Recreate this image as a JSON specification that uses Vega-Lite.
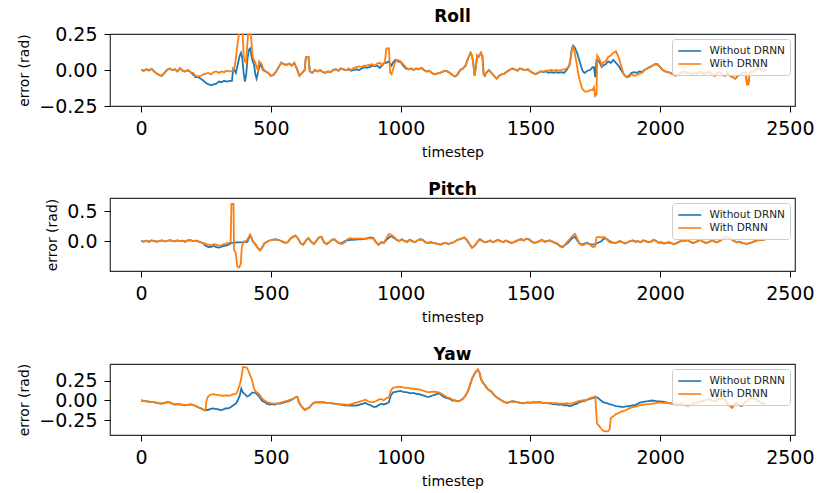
{
"$schema":"https://vega.github.io/schema/vega-lite/v6.json",
"padding":{"left":17,"top":7,"right":5,"bottom":0},
"spacing":20,
"config":{
"font":"DejaVu Sans",
"view":{"stroke":"#333","strokeWidth":1.2},
"axis":{"labelFont":"DejaVu Sans","titleFont":"DejaVu Sans","labelFontSize":19,"titleFontSize":14,"titleFontWeight":"normal","tickSize":6,"labelPadding":7,"titlePadding":7,"domain":false,"grid":false,"tickColor":"#000","labelColor":"#000","titleColor":"#000","labelFlush":false,"labelOverlap":false},
"title":{"font":"DejaVu Sans","fontSize":17,"fontWeight":"bold","offset":-1,"color":"#000"},
"legend":{"orient":"top-right","offset":5,"labelFont":"DejaVu Sans","labelFontSize":10.5,"labelColor":"#222","symbolType":"M-1,0H3","symbolSize":132,"symbolStrokeWidth":1.6,"labelOffset":18.5,"rowPadding":0,"padding":5,"fillColor":"rgba(255,255,255,0.8)","strokeColor":"#cccccc","cornerRadius":3}
},
"resolve":{"scale":{"color":"independent","y":"independent"},"legend":{"color":"independent"}},
"datasets":{
"roll":[
{"t":0,"without":0,"with":0},{"t":10,"without":-0.005,"with":-0.005},{"t":20,"without":0.005,"with":0.005},{"t":30,"without":-0.003,"with":-0.003},{"t":40,"without":0.008,"with":0.008},{"t":50,"without":-0.01,"with":-0.01},{"t":60,"without":-0.025,"with":-0.025},{"t":70,"without":-0.035,"with":-0.035},{"t":80,"without":-0.04,"with":-0.04},{"t":90,"without":-0.02,"with":-0.02},{"t":100,"without":0,"with":0},{"t":110,"without":0.01,"with":0.01},{"t":120,"without":0,"with":0},{"t":130,"without":0.005,"with":0.005},{"t":140,"without":-0.01,"with":-0.01},{"t":150,"without":0.012,"with":0.012},{"t":160,"without":-0.005,"with":-0.005},{"t":170,"without":-0.01,"with":-0.01},{"t":180,"without":0,"with":0},{"t":190,"without":-0.015,"with":-0.015},{"t":200,"without":-0.03,"with":-0.02},{"t":210,"without":-0.05,"with":-0.04},{"t":220,"without":-0.05,"with":-0.045},{"t":230,"without":-0.06,"with":-0.04},{"t":240,"without":-0.075,"with":-0.03},{"t":250,"without":-0.09,"with":-0.025},{"t":260,"without":-0.1,"with":-0.02},{"t":270,"without":-0.105,"with":-0.03},{"t":280,"without":-0.1,"with":-0.015},{"t":290,"without":-0.095,"with":-0.01},{"t":300,"without":-0.08,"with":-0.02},{"t":310,"without":-0.085,"with":-0.01},{"t":320,"without":-0.075,"with":-0.015},{"t":330,"without":-0.08,"with":-0.005},{"t":340,"without":-0.075,"with":-0.01},{"t":350,"without":-0.075,"with":-0.008},{"t":355,"without":0.01,"with":0},{"t":360,"without":0,"with":0.02},{"t":365,"without":-0.02,"with":0.08},{"t":370,"without":0.02,"with":0.16},{"t":375,"without":0.06,"with":0.22},{"t":380,"without":0.1,"with":0.3},{"t":385,"without":0.12,"with":0.33},{"t":390,"without":0.08,"with":0.3},{"t":395,"without":-0.02,"with":0.1},{"t":400,"without":-0.08,"with":0.06},{"t":405,"without":-0.03,"with":0.05},{"t":410,"without":0.08,"with":0.2},{"t":415,"without":0.14,"with":0.3},{"t":420,"without":0.15,"with":0.32},{"t":425,"without":0.1,"with":0.2},{"t":430,"without":0.06,"with":0.09},{"t":435,"without":0.04,"with":0.07},{"t":440,"without":-0.03,"with":0.05},{"t":445,"without":-0.06,"with":0.02},{"t":450,"without":-0.02,"with":0},{"t":455,"without":0.02,"with":0.06},{"t":460,"without":0.04,"with":0.05},{"t":465,"without":0.02,"with":0.04},{"t":470,"without":0,"with":0.01},{"t":480,"without":-0.01,"with":-0.01},{"t":490,"without":-0.02,"with":-0.02},{"t":500,"without":-0.04,"with":-0.04},{"t":510,"without":-0.035,"with":-0.035},{"t":520,"without":-0.01,"with":-0.01},{"t":530,"without":0.02,"with":0.02},{"t":540,"without":0.05,"with":0.05},{"t":550,"without":0.04,"with":0.04},{"t":560,"without":0.035,"with":0.035},{"t":570,"without":0.045,"with":0.045},{"t":580,"without":0.03,"with":0.03},{"t":590,"without":0.05,"with":0.05},{"t":600,"without":0.01,"with":0.01},{"t":610,"without":-0.04,"with":-0.04},{"t":620,"without":-0.02,"with":-0.02},{"t":630,"without":0,"with":0},{"t":635,"without":0.09,"with":0.09},{"t":645,"without":0.09,"with":0.09},{"t":650,"without":-0.01,"with":-0.01},{"t":660,"without":-0.02,"with":-0.02},{"t":670,"without":0,"with":0},{"t":680,"without":-0.01,"with":-0.01},{"t":690,"without":0,"with":0},{"t":700,"without":-0.015,"with":-0.015},{"t":710,"without":-0.02,"with":-0.02},{"t":720,"without":-0.01,"with":-0.01},{"t":730,"without":-0.015,"with":-0.015},{"t":740,"without":0,"with":0},{"t":750,"without":0.005,"with":0.005},{"t":760,"without":-0.005,"with":-0.005},{"t":770,"without":0.01,"with":0.01},{"t":780,"without":0.005,"with":0.005},{"t":790,"without":0,"with":0},{"t":800,"without":0.005,"with":0.01},{"t":810,"without":-0.005,"with":0},{"t":820,"without":0,"with":0.015},{"t":830,"without":0.005,"with":0.02},{"t":840,"without":0,"with":0.025},{"t":850,"without":0.01,"with":0.02},{"t":860,"without":0.02,"with":0.03},{"t":870,"without":0.015,"with":0.03},{"t":880,"without":0.02,"with":0.035},{"t":890,"without":0.03,"with":0.04},{"t":900,"without":0.025,"with":0.03},{"t":910,"without":0.03,"with":0.045},{"t":920,"without":0.015,"with":0.05},{"t":930,"without":0.04,"with":0.03},{"t":940,"without":0.05,"with":0.06},{"t":945,"without":0.05,"with":0.15},{"t":955,"without":0.06,"with":0.15},{"t":960,"without":0.04,"with":-0.02},{"t":965,"without":0.03,"with":-0.03},{"t":970,"without":0.05,"with":0},{"t":980,"without":0.07,"with":0.06},{"t":990,"without":0.06,"with":0.07},{"t":1000,"without":0.055,"with":0.06},{"t":1010,"without":0.03,"with":0.04},{"t":1020,"without":0.01,"with":0.02},{"t":1030,"without":0.005,"with":0.005},{"t":1040,"without":0.01,"with":0.01},{"t":1050,"without":0,"with":0},{"t":1060,"without":0.01,"with":0.01},{"t":1070,"without":0.005,"with":0.005},{"t":1080,"without":0.015,"with":0.015},{"t":1090,"without":0,"with":0},{"t":1100,"without":-0.01,"with":-0.01},{"t":1110,"without":-0.005,"with":-0.005},{"t":1120,"without":-0.02,"with":-0.02},{"t":1130,"without":-0.03,"with":-0.03},{"t":1140,"without":-0.025,"with":-0.025},{"t":1150,"without":-0.02,"with":-0.02},{"t":1160,"without":-0.015,"with":-0.015},{"t":1170,"without":-0.005,"with":-0.005},{"t":1180,"without":-0.01,"with":-0.01},{"t":1190,"without":-0.02,"with":-0.02},{"t":1200,"without":-0.035,"with":-0.035},{"t":1210,"without":-0.045,"with":-0.045},{"t":1220,"without":-0.03,"with":-0.03},{"t":1230,"without":0,"with":0},{"t":1240,"without":0.01,"with":0.01},{"t":1250,"without":0.03,"with":0.03},{"t":1260,"without":0.08,"with":0.08},{"t":1270,"without":0.12,"with":0.12},{"t":1275,"without":0.1,"with":0.1},{"t":1280,"without":0.05,"with":0.05},{"t":1285,"without":-0.04,"with":-0.04},{"t":1290,"without":0.02,"with":0.02},{"t":1295,"without":0.1,"with":0.1},{"t":1300,"without":0.09,"with":0.09},{"t":1310,"without":0.12,"with":0.12},{"t":1315,"without":0.1,"with":0.1},{"t":1320,"without":-0.03,"with":-0.03},{"t":1325,"without":-0.04,"with":-0.04},{"t":1330,"without":-0.02,"with":-0.02},{"t":1340,"without":0,"with":0},{"t":1350,"without":-0.02,"with":-0.02},{"t":1360,"without":-0.04,"with":-0.04},{"t":1370,"without":-0.06,"with":-0.06},{"t":1380,"without":-0.04,"with":-0.04},{"t":1390,"without":-0.03,"with":-0.03},{"t":1400,"without":-0.025,"with":-0.025},{"t":1410,"without":-0.01,"with":-0.01},{"t":1420,"without":0,"with":0},{"t":1430,"without":0.01,"with":0.01},{"t":1440,"without":0.005,"with":0.005},{"t":1450,"without":-0.005,"with":-0.005},{"t":1460,"without":0.01,"with":0.01},{"t":1470,"without":0.005,"with":0.005},{"t":1480,"without":0,"with":0},{"t":1490,"without":0.005,"with":0.005},{"t":1500,"without":-0.01,"with":-0.01},{"t":1510,"without":-0.02,"with":-0.02},{"t":1520,"without":-0.03,"with":-0.03},{"t":1530,"without":-0.02,"with":-0.02},{"t":1540,"without":-0.01,"with":-0.01},{"t":1550,"without":-0.015,"with":-0.01},{"t":1560,"without":-0.01,"with":-0.005},{"t":1570,"without":-0.02,"with":-0.005},{"t":1580,"without":-0.015,"with":0},{"t":1590,"without":-0.02,"with":-0.005},{"t":1600,"without":-0.015,"with":0},{"t":1610,"without":-0.02,"with":-0.005},{"t":1620,"without":-0.015,"with":0},{"t":1630,"without":-0.02,"with":0.005},{"t":1640,"without":0,"with":0.01},{"t":1650,"without":0.03,"with":0.03},{"t":1655,"without":0.08,"with":0.07},{"t":1660,"without":0.15,"with":0.14},{"t":1665,"without":0.17,"with":0.16},{"t":1670,"without":0.16,"with":0.13},{"t":1675,"without":0.14,"with":0.08},{"t":1680,"without":0.12,"with":0.03},{"t":1685,"without":0.09,"with":-0.03},{"t":1690,"without":0.06,"with":-0.07},{"t":1695,"without":0.03,"with":-0.1},{"t":1700,"without":0,"with":-0.13},{"t":1705,"without":-0.015,"with":-0.14},{"t":1710,"without":-0.02,"with":-0.15},{"t":1720,"without":-0.005,"with":-0.15},{"t":1730,"without":0,"with":-0.14},{"t":1740,"without":0.02,"with":-0.14},{"t":1745,"without":0.02,"with":-0.12},{"t":1750,"without":-0.05,"with":-0.18},{"t":1755,"without":0.07,"with":-0.17},{"t":1758,"without":0.07,"with":0.1},{"t":1765,"without":0.06,"with":0.08},{"t":1770,"without":0.04,"with":0.06},{"t":1775,"without":0.02,"with":0.03},{"t":1780,"without":0.03,"with":0.05},{"t":1790,"without":0.04,"with":0.06},{"t":1800,"without":0.06,"with":0.09},{"t":1810,"without":0.05,"with":0.1},{"t":1820,"without":0.07,"with":0.12},{"t":1830,"without":0.05,"with":0.13},{"t":1840,"without":0.03,"with":0.09},{"t":1850,"without":0,"with":0.03},{"t":1860,"without":-0.03,"with":-0.03},{"t":1870,"without":-0.05,"with":-0.05},{"t":1880,"without":-0.04,"with":-0.05},{"t":1890,"without":-0.02,"with":-0.03},{"t":1900,"without":-0.015,"with":-0.04},{"t":1910,"without":-0.02,"with":-0.035},{"t":1920,"without":-0.01,"with":-0.025},{"t":1930,"without":-0.015,"with":-0.02},{"t":1940,"without":0,"with":0},{"t":1950,"without":0.01,"with":0.01},{"t":1960,"without":0.02,"with":0.02},{"t":1970,"without":0.03,"with":0.03},{"t":1980,"without":0.04,"with":0.04},{"t":1990,"without":0.04,"with":0.04},{"t":2000,"without":0.02,"with":0.02},{"t":2010,"without":0,"with":0},{"t":2020,"without":-0.01,"with":-0.01},{"t":2030,"without":-0.015,"with":-0.015},{"t":2040,"without":-0.02,"with":-0.02},{"t":2050,"without":-0.03,"with":-0.03},{"t":2060,"without":-0.04,"with":-0.04},{"t":2070,"without":-0.03,"with":-0.03},{"t":2080,"without":-0.02,"with":-0.02},{"t":2090,"without":-0.01,"with":-0.01},{"t":2100,"without":-0.02,"with":-0.02},{"t":2110,"without":-0.015,"with":-0.015},{"t":2120,"without":-0.03,"with":-0.03},{"t":2130,"without":-0.02,"with":-0.02},{"t":2140,"without":-0.025,"with":-0.025},{"t":2150,"without":-0.01,"with":-0.01},{"t":2160,"without":-0.02,"with":-0.02},{"t":2170,"without":-0.03,"with":-0.03},{"t":2180,"without":-0.02,"with":-0.02},{"t":2190,"without":-0.01,"with":-0.01},{"t":2200,"without":-0.03,"with":-0.03},{"t":2210,"without":-0.04,"with":-0.04},{"t":2220,"without":-0.02,"with":-0.02},{"t":2230,"without":-0.015,"with":-0.015},{"t":2240,"without":-0.03,"with":-0.03},{"t":2250,"without":-0.04,"with":-0.04},{"t":2260,"without":-0.02,"with":-0.02},{"t":2270,"without":-0.04,"with":-0.04},{"t":2280,"without":-0.05,"with":-0.05},{"t":2290,"without":-0.06,"with":-0.06},{"t":2300,"without":-0.04,"with":-0.04},{"t":2310,"without":-0.03,"with":-0.03},{"t":2320,"without":-0.02,"with":-0.02},{"t":2330,"without":-0.02,"with":-0.02},{"t":2335,"without":-0.1,"with":-0.1},{"t":2340,"without":-0.1,"with":-0.1},{"t":2345,"without":-0.02,"with":-0.02},{"t":2360,"without":-0.01,"with":-0.01},{"t":2370,"without":0,"with":0},{"t":2380,"without":0.01,"with":0.01},{"t":2390,"without":0,"with":0},{"t":2400,"without":-0.005,"with":-0.005},{"t":2410,"without":0,"with":0}
],
"pitch":[
{"t":0,"without":0,"with":0},{"t":10,"without":-0.01,"with":-0.01},{"t":20,"without":0.005,"with":0.005},{"t":30,"without":-0.01,"with":-0.01},{"t":40,"without":0.01,"with":0.01},{"t":50,"without":0,"with":0},{"t":60,"without":-0.01,"with":-0.01},{"t":70,"without":0,"with":0},{"t":80,"without":0.01,"with":0.01},{"t":90,"without":-0.005,"with":-0.005},{"t":100,"without":0,"with":0},{"t":110,"without":0.015,"with":0.015},{"t":120,"without":0.005,"with":0.005},{"t":130,"without":-0.005,"with":-0.005},{"t":140,"without":0.01,"with":0.01},{"t":150,"without":0,"with":0},{"t":160,"without":0.005,"with":0.005},{"t":170,"without":-0.01,"with":-0.01},{"t":180,"without":0.01,"with":0.01},{"t":190,"without":0.015,"with":0.015},{"t":200,"without":0,"with":0},{"t":210,"without":0.005,"with":0.005},{"t":220,"without":-0.005,"with":-0.005},{"t":230,"without":-0.02,"with":-0.02},{"t":240,"without":-0.04,"with":-0.03},{"t":250,"without":-0.08,"with":-0.05},{"t":260,"without":-0.1,"with":-0.06},{"t":270,"without":-0.095,"with":-0.07},{"t":280,"without":-0.08,"with":-0.05},{"t":290,"without":-0.1,"with":-0.06},{"t":300,"without":-0.11,"with":-0.08},{"t":310,"without":-0.095,"with":-0.07},{"t":320,"without":-0.08,"with":-0.05},{"t":330,"without":-0.07,"with":-0.04},{"t":340,"without":-0.05,"with":-0.03},{"t":345,"without":-0.04,"with":-0.02},{"t":348,"without":-0.03,"with":0.62},{"t":356,"without":-0.03,"with":0.62},{"t":358,"without":-0.03,"with":-0.15},{"t":365,"without":-0.02,"with":-0.2},{"t":370,"without":-0.02,"with":-0.42},{"t":378,"without":-0.02,"with":-0.44},{"t":384,"without":-0.02,"with":-0.38},{"t":388,"without":-0.02,"with":-0.1},{"t":395,"without":-0.02,"with":-0.01},{"t":400,"without":-0.01,"with":0},{"t":405,"without":-0.02,"with":0},{"t":410,"without":-0.01,"with":0.03},{"t":415,"without":0.05,"with":0.07},{"t":420,"without":0.1,"with":0.11},{"t":425,"without":0.06,"with":0.06},{"t":430,"without":0,"with":0},{"t":440,"without":-0.05,"with":-0.05},{"t":450,"without":-0.12,"with":-0.12},{"t":458,"without":-0.15,"with":-0.16},{"t":465,"without":-0.12,"with":-0.12},{"t":475,"without":-0.04,"with":-0.04},{"t":485,"without":-0.01,"with":-0.01},{"t":495,"without":0.01,"with":0.01},{"t":505,"without":0.02,"with":0.02},{"t":515,"without":0.03,"with":0.03},{"t":525,"without":0.025,"with":0.025},{"t":535,"without":0.01,"with":0.01},{"t":545,"without":-0.01,"with":-0.01},{"t":555,"without":-0.03,"with":-0.03},{"t":565,"without":-0.02,"with":-0.02},{"t":575,"without":0.04,"with":0.04},{"t":585,"without":0.07,"with":0.07},{"t":595,"without":0.09,"with":0.09},{"t":605,"without":0.04,"with":0.04},{"t":615,"without":-0.04,"with":-0.04},{"t":625,"without":-0.06,"with":-0.06},{"t":635,"without":0.01,"with":0.01},{"t":645,"without":0.05,"with":0.05},{"t":655,"without":-0.01,"with":-0.01},{"t":665,"without":-0.05,"with":-0.05},{"t":675,"without":0,"with":0},{"t":685,"without":0.06,"with":0.06},{"t":695,"without":0.07,"with":0.07},{"t":705,"without":-0.02,"with":-0.02},{"t":715,"without":-0.05,"with":-0.05},{"t":725,"without":-0.02,"with":-0.02},{"t":735,"without":0.02,"with":0.02},{"t":745,"without":0.03,"with":0.03},{"t":755,"without":-0.01,"with":-0.01},{"t":765,"without":-0.04,"with":-0.04},{"t":775,"without":-0.03,"with":-0.05},{"t":785,"without":0,"with":-0.02},{"t":795,"without":0.01,"with":0.03},{"t":805,"without":0.02,"with":0.05},{"t":815,"without":0.02,"with":0.04},{"t":825,"without":0.025,"with":0.04},{"t":835,"without":0.03,"with":0.045},{"t":845,"without":0.03,"with":0.04},{"t":855,"without":0.035,"with":0.04},{"t":865,"without":0.04,"with":0.04},{"t":875,"without":0.05,"with":0.045},{"t":885,"without":0.06,"with":0.045},{"t":895,"without":0.05,"with":0.04},{"t":905,"without":-0.02,"with":-0.02},{"t":915,"without":-0.06,"with":-0.06},{"t":925,"without":-0.02,"with":-0.02},{"t":935,"without":-0.03,"with":-0.03},{"t":945,"without":0.02,"with":0.05},{"t":955,"without":0.06,"with":0.12},{"t":965,"without":0.08,"with":0.1},{"t":975,"without":0.05,"with":0.07},{"t":985,"without":0.02,"with":0.02},{"t":995,"without":0,"with":0},{"t":1005,"without":0.03,"with":0.03},{"t":1015,"without":0,"with":0},{"t":1025,"without":-0.01,"with":-0.01},{"t":1035,"without":0.02,"with":0.02},{"t":1045,"without":0,"with":0},{"t":1055,"without":-0.02,"with":-0.02},{"t":1065,"without":0.01,"with":0.01},{"t":1075,"without":0.03,"with":0.03},{"t":1085,"without":0.02,"with":0.02},{"t":1095,"without":-0.02,"with":-0.02},{"t":1105,"without":-0.03,"with":-0.03},{"t":1115,"without":-0.02,"with":-0.02},{"t":1125,"without":-0.03,"with":-0.03},{"t":1135,"without":-0.04,"with":-0.04},{"t":1145,"without":-0.05,"with":-0.05},{"t":1155,"without":-0.06,"with":-0.06},{"t":1165,"without":-0.04,"with":-0.04},{"t":1175,"without":-0.03,"with":-0.03},{"t":1185,"without":-0.05,"with":-0.05},{"t":1195,"without":-0.03,"with":-0.03},{"t":1205,"without":-0.02,"with":-0.02},{"t":1215,"without":0.01,"with":0.01},{"t":1225,"without":0.03,"with":0.03},{"t":1235,"without":0.04,"with":0.04},{"t":1245,"without":0.06,"with":0.06},{"t":1255,"without":0.02,"with":0.02},{"t":1265,"without":-0.05,"with":-0.05},{"t":1275,"without":-0.11,"with":-0.11},{"t":1285,"without":-0.08,"with":-0.08},{"t":1295,"without":-0.02,"with":-0.02},{"t":1305,"without":0.03,"with":0.03},{"t":1315,"without":0,"with":0},{"t":1325,"without":-0.02,"with":-0.02},{"t":1335,"without":-0.01,"with":-0.01},{"t":1345,"without":0.01,"with":0.01},{"t":1355,"without":-0.02,"with":-0.02},{"t":1365,"without":0,"with":0},{"t":1375,"without":0.02,"with":0.02},{"t":1385,"without":0,"with":0},{"t":1395,"without":-0.02,"with":-0.02},{"t":1405,"without":0.01,"with":0.01},{"t":1415,"without":-0.01,"with":-0.01},{"t":1425,"without":-0.03,"with":-0.03},{"t":1435,"without":-0.02,"with":-0.02},{"t":1445,"without":0,"with":0},{"t":1455,"without":0.02,"with":0.02},{"t":1465,"without":0.03,"with":0.03},{"t":1475,"without":0.01,"with":0.01},{"t":1485,"without":0.04,"with":0.04},{"t":1495,"without":0.03,"with":0.03},{"t":1505,"without":-0.01,"with":-0.01},{"t":1515,"without":-0.03,"with":-0.03},{"t":1525,"without":-0.02,"with":-0.02},{"t":1535,"without":0,"with":0},{"t":1545,"without":0.02,"with":0.02},{"t":1555,"without":-0.01,"with":-0.01},{"t":1565,"without":0,"with":0},{"t":1575,"without":0.01,"with":0.01},{"t":1585,"without":-0.01,"with":-0.01},{"t":1595,"without":-0.03,"with":-0.03},{"t":1605,"without":-0.05,"with":-0.04},{"t":1615,"without":-0.09,"with":-0.08},{"t":1625,"without":-0.1,"with":-0.09},{"t":1635,"without":-0.06,"with":-0.05},{"t":1645,"without":-0.03,"with":0},{"t":1655,"without":0.02,"with":0.05},{"t":1665,"without":0.06,"with":0.1},{"t":1672,"without":0.07,"with":0.12},{"t":1680,"without":0.02,"with":0.05},{"t":1690,"without":-0.04,"with":-0.05},{"t":1700,"without":-0.06,"with":-0.07},{"t":1710,"without":-0.04,"with":-0.05},{"t":1720,"without":-0.03,"with":-0.04},{"t":1730,"without":-0.05,"with":-0.06},{"t":1740,"without":-0.06,"with":-0.1},{"t":1750,"without":-0.05,"with":-0.09},{"t":1755,"without":-0.04,"with":0.06},{"t":1765,"without":-0.02,"with":0.07},{"t":1775,"without":0,"with":0.06},{"t":1785,"without":0.05,"with":0.07},{"t":1795,"without":0.03,"with":0.03},{"t":1805,"without":0,"with":-0.02},{"t":1815,"without":-0.02,"with":-0.03},{"t":1825,"without":-0.03,"with":-0.03},{"t":1835,"without":-0.02,"with":-0.02},{"t":1845,"without":0,"with":0},{"t":1855,"without":-0.02,"with":-0.02},{"t":1865,"without":-0.04,"with":-0.04},{"t":1875,"without":-0.02,"with":-0.02},{"t":1885,"without":0,"with":0},{"t":1895,"without":0.01,"with":0.01},{"t":1905,"without":-0.01,"with":-0.01},{"t":1915,"without":0,"with":0},{"t":1925,"without":-0.02,"with":-0.02},{"t":1935,"without":0.01,"with":0.01},{"t":1945,"without":0,"with":0},{"t":1955,"without":-0.02,"with":-0.02},{"t":1965,"without":-0.01,"with":-0.01},{"t":1975,"without":0.02,"with":0.02},{"t":1985,"without":0,"with":0},{"t":1995,"without":-0.03,"with":-0.03},{"t":2005,"without":-0.02,"with":-0.02},{"t":2015,"without":-0.04,"with":-0.04},{"t":2025,"without":-0.03,"with":-0.03},{"t":2035,"without":-0.02,"with":-0.02},{"t":2045,"without":-0.04,"with":-0.04},{"t":2055,"without":-0.05,"with":-0.05},{"t":2065,"without":-0.03,"with":-0.03},{"t":2075,"without":-0.01,"with":-0.01},{"t":2085,"without":0.01,"with":0.01},{"t":2095,"without":0,"with":0},{"t":2105,"without":0.02,"with":0.02},{"t":2115,"without":-0.01,"with":-0.01},{"t":2125,"without":-0.03,"with":-0.03},{"t":2135,"without":-0.02,"with":-0.02},{"t":2145,"without":0,"with":0},{"t":2155,"without":0.02,"with":0.02},{"t":2165,"without":-0.01,"with":-0.01},{"t":2175,"without":-0.03,"with":-0.03},{"t":2185,"without":-0.02,"with":-0.02},{"t":2195,"without":0,"with":0},{"t":2205,"without":0.01,"with":0.01},{"t":2215,"without":-0.02,"with":-0.02},{"t":2225,"without":-0.01,"with":-0.01},{"t":2235,"without":0.02,"with":0.02},{"t":2245,"without":0.05,"with":0.05},{"t":2255,"without":0.07,"with":0.07},{"t":2265,"without":0.06,"with":0.06},{"t":2275,"without":0.03,"with":0.03},{"t":2285,"without":0,"with":0},{"t":2295,"without":-0.02,"with":-0.02},{"t":2305,"without":-0.01,"with":-0.01},{"t":2315,"without":-0.03,"with":-0.03},{"t":2325,"without":-0.04,"with":-0.04},{"t":2335,"without":-0.05,"with":-0.05},{"t":2345,"without":-0.03,"with":-0.03},{"t":2355,"without":-0.02,"with":-0.02},{"t":2365,"without":0,"with":0},{"t":2375,"without":0.01,"with":0.01},{"t":2385,"without":0.02,"with":0.02},{"t":2395,"without":0.02,"with":0.02},{"t":2405,"without":0.03,"with":0.03}
],
"yaw":[
{"t":0,"without":0,"with":0},{"t":10,"without":-0.005,"with":-0.005},{"t":20,"without":-0.01,"with":-0.01},{"t":30,"without":-0.015,"with":-0.015},{"t":40,"without":-0.02,"with":-0.02},{"t":50,"without":-0.02,"with":-0.02},{"t":60,"without":-0.03,"with":-0.03},{"t":70,"without":-0.035,"with":-0.035},{"t":80,"without":-0.04,"with":-0.04},{"t":90,"without":-0.03,"with":-0.03},{"t":100,"without":-0.02,"with":-0.02},{"t":110,"without":-0.025,"with":-0.025},{"t":120,"without":-0.04,"with":-0.04},{"t":130,"without":-0.05,"with":-0.05},{"t":140,"without":-0.045,"with":-0.045},{"t":150,"without":-0.05,"with":-0.05},{"t":160,"without":-0.055,"with":-0.055},{"t":170,"without":-0.06,"with":-0.06},{"t":180,"without":-0.055,"with":-0.055},{"t":190,"without":-0.05,"with":-0.05},{"t":200,"without":-0.055,"with":-0.055},{"t":210,"without":-0.07,"with":-0.07},{"t":220,"without":-0.085,"with":-0.085},{"t":230,"without":-0.1,"with":-0.1},{"t":240,"without":-0.115,"with":-0.115},{"t":248,"without":-0.125,"with":-0.125},{"t":252,"without":-0.12,"with":0},{"t":258,"without":-0.12,"with":0.05},{"t":265,"without":-0.11,"with":0.07},{"t":275,"without":-0.1,"with":0.08},{"t":285,"without":-0.105,"with":0.075},{"t":295,"without":-0.11,"with":0.07},{"t":305,"without":-0.12,"with":0.065},{"t":315,"without":-0.115,"with":0.06},{"t":325,"without":-0.1,"with":0.065},{"t":335,"without":-0.1,"with":0.06},{"t":345,"without":-0.085,"with":0.065},{"t":355,"without":-0.06,"with":0.08},{"t":365,"without":-0.04,"with":0.08},{"t":372,"without":0,"with":0.12},{"t":380,"without":0.06,"with":0.2},{"t":386,"without":0.15,"with":0.28},{"t":392,"without":0.1,"with":0.42},{"t":400,"without":0.08,"with":0.42},{"t":408,"without":0.05,"with":0.41},{"t":415,"without":0.06,"with":0.36},{"t":422,"without":0.08,"with":0.3},{"t":428,"without":0.1,"with":0.25},{"t":434,"without":0.1,"with":0.16},{"t":440,"without":0.1,"with":0.12},{"t":446,"without":0.08,"with":0.1},{"t":455,"without":0.05,"with":0.08},{"t":465,"without":0,"with":0.03},{"t":475,"without":-0.02,"with":0},{"t":485,"without":-0.04,"with":-0.02},{"t":495,"without":-0.05,"with":-0.03},{"t":505,"without":-0.045,"with":-0.04},{"t":515,"without":-0.05,"with":-0.04},{"t":525,"without":-0.04,"with":-0.035},{"t":535,"without":-0.04,"with":-0.03},{"t":545,"without":-0.03,"with":-0.02},{"t":555,"without":-0.02,"with":-0.01},{"t":565,"without":-0.01,"with":0},{"t":575,"without":0,"with":0.01},{"t":585,"without":0.02,"with":0.02},{"t":595,"without":0.04,"with":0.04},{"t":602,"without":0.045,"with":0.045},{"t":608,"without":-0.02,"with":-0.02},{"t":615,"without":-0.06,"with":-0.06},{"t":625,"without":-0.1,"with":-0.1},{"t":632,"without":-0.12,"with":-0.12},{"t":640,"without":-0.1,"with":-0.1},{"t":648,"without":-0.09,"with":-0.09},{"t":655,"without":-0.06,"with":-0.06},{"t":665,"without":-0.03,"with":-0.03},{"t":675,"without":-0.02,"with":-0.02},{"t":685,"without":-0.025,"with":-0.025},{"t":695,"without":-0.02,"with":-0.02},{"t":705,"without":-0.025,"with":-0.025},{"t":715,"without":-0.03,"with":-0.03},{"t":725,"without":-0.03,"with":-0.03},{"t":735,"without":-0.035,"with":-0.035},{"t":745,"without":-0.04,"with":-0.04},{"t":755,"without":-0.045,"with":-0.045},{"t":765,"without":-0.05,"with":-0.05},{"t":775,"without":-0.055,"with":-0.05},{"t":785,"without":-0.06,"with":-0.05},{"t":795,"without":-0.06,"with":-0.055},{"t":805,"without":-0.065,"with":-0.05},{"t":815,"without":-0.06,"with":-0.04},{"t":825,"without":-0.065,"with":-0.03},{"t":835,"without":-0.06,"with":-0.02},{"t":845,"without":-0.05,"with":-0.01},{"t":855,"without":-0.04,"with":0},{"t":865,"without":-0.03,"with":0.01},{"t":875,"without":-0.05,"with":-0.01},{"t":885,"without":-0.06,"with":-0.02},{"t":895,"without":-0.08,"with":-0.02},{"t":905,"without":-0.08,"with":-0.01},{"t":915,"without":-0.06,"with":0.01},{"t":925,"without":-0.04,"with":0.02},{"t":935,"without":-0.05,"with":0},{"t":945,"without":-0.04,"with":0.03},{"t":955,"without":-0.02,"with":0.04},{"t":962,"without":0.06,"with":0.12},{"t":970,"without":0.1,"with":0.16},{"t":980,"without":0.11,"with":0.165},{"t":990,"without":0.115,"with":0.175},{"t":1000,"without":0.12,"with":0.17},{"t":1010,"without":0.11,"with":0.165},{"t":1020,"without":0.105,"with":0.16},{"t":1030,"without":0.1,"with":0.16},{"t":1040,"without":0.09,"with":0.15},{"t":1050,"without":0.095,"with":0.15},{"t":1060,"without":0.085,"with":0.145},{"t":1070,"without":0.08,"with":0.14},{"t":1080,"without":0.07,"with":0.13},{"t":1090,"without":0.06,"with":0.12},{"t":1100,"without":0.05,"with":0.11},{"t":1110,"without":0.045,"with":0.105},{"t":1120,"without":0.06,"with":0.11},{"t":1130,"without":0.07,"with":0.11},{"t":1140,"without":0.08,"with":0.105},{"t":1150,"without":0.09,"with":0.1},{"t":1160,"without":0.06,"with":0.08},{"t":1170,"without":0.04,"with":0.06},{"t":1180,"without":0.03,"with":0.04},{"t":1190,"without":0.02,"with":0.03},{"t":1200,"without":0,"with":0.01},{"t":1210,"without":0,"with":0},{"t":1220,"without":-0.01,"with":-0.01},{"t":1230,"without":0,"with":0},{"t":1240,"without":0.02,"with":0.02},{"t":1250,"without":0.06,"with":0.06},{"t":1260,"without":0.12,"with":0.12},{"t":1268,"without":0.2,"with":0.2},{"t":1276,"without":0.28,"with":0.28},{"t":1284,"without":0.33,"with":0.33},{"t":1292,"without":0.37,"with":0.37},{"t":1298,"without":0.39,"with":0.39},{"t":1304,"without":0.35,"with":0.35},{"t":1310,"without":0.27,"with":0.27},{"t":1318,"without":0.22,"with":0.22},{"t":1326,"without":0.19,"with":0.19},{"t":1334,"without":0.15,"with":0.15},{"t":1342,"without":0.13,"with":0.13},{"t":1350,"without":0.11,"with":0.11},{"t":1360,"without":0.07,"with":0.07},{"t":1370,"without":0.04,"with":0.04},{"t":1380,"without":0.02,"with":0.02},{"t":1390,"without":0,"with":0},{"t":1400,"without":-0.02,"with":-0.02},{"t":1410,"without":-0.03,"with":-0.03},{"t":1420,"without":-0.02,"with":-0.02},{"t":1430,"without":-0.01,"with":-0.01},{"t":1440,"without":-0.015,"with":-0.015},{"t":1450,"without":-0.02,"with":-0.02},{"t":1460,"without":-0.03,"with":-0.03},{"t":1470,"without":-0.035,"with":-0.035},{"t":1480,"without":-0.03,"with":-0.03},{"t":1490,"without":-0.025,"with":-0.025},{"t":1500,"without":-0.03,"with":-0.03},{"t":1510,"without":-0.02,"with":-0.02},{"t":1520,"without":-0.025,"with":-0.025},{"t":1530,"without":-0.02,"with":-0.02},{"t":1540,"without":-0.025,"with":-0.025},{"t":1550,"without":-0.03,"with":-0.03},{"t":1560,"without":-0.03,"with":-0.03},{"t":1570,"without":-0.035,"with":-0.03},{"t":1580,"without":-0.04,"with":-0.03},{"t":1590,"without":-0.05,"with":-0.035},{"t":1600,"without":-0.05,"with":-0.035},{"t":1610,"without":-0.055,"with":-0.04},{"t":1620,"without":-0.05,"with":-0.04},{"t":1630,"without":-0.06,"with":-0.04},{"t":1640,"without":-0.06,"with":-0.035},{"t":1650,"without":-0.07,"with":-0.04},{"t":1660,"without":-0.065,"with":-0.04},{"t":1670,"without":-0.05,"with":-0.025},{"t":1680,"without":-0.04,"with":-0.015},{"t":1690,"without":-0.02,"with":-0.005},{"t":1700,"without":-0.01,"with":0},{"t":1710,"without":-0.005,"with":0.005},{"t":1720,"without":0.01,"with":0.01},{"t":1730,"without":0.02,"with":0.03},{"t":1740,"without":0.03,"with":0.04},{"t":1750,"without":0.04,"with":0.05},{"t":1757,"without":0.04,"with":-0.29},{"t":1765,"without":0.02,"with":-0.32},{"t":1772,"without":0,"with":-0.35},{"t":1780,"without":-0.02,"with":-0.38},{"t":1790,"without":-0.03,"with":-0.39},{"t":1800,"without":-0.04,"with":-0.39},{"t":1806,"without":-0.05,"with":-0.36},{"t":1810,"without":-0.05,"with":-0.22},{"t":1820,"without":-0.06,"with":-0.2},{"t":1830,"without":-0.07,"with":-0.17},{"t":1840,"without":-0.075,"with":-0.16},{"t":1850,"without":-0.08,"with":-0.14},{"t":1860,"without":-0.08,"with":-0.13},{"t":1870,"without":-0.075,"with":-0.12},{"t":1880,"without":-0.07,"with":-0.1},{"t":1890,"without":-0.065,"with":-0.09},{"t":1900,"without":-0.06,"with":-0.08},{"t":1910,"without":-0.05,"with":-0.075},{"t":1920,"without":-0.03,"with":-0.06},{"t":1930,"without":-0.02,"with":-0.055},{"t":1940,"without":-0.015,"with":-0.05},{"t":1950,"without":-0.01,"with":-0.05},{"t":1960,"without":-0.005,"with":-0.045},{"t":1970,"without":0,"with":-0.04},{"t":1980,"without":-0.005,"with":-0.035},{"t":1990,"without":-0.01,"with":-0.03},{"t":2000,"without":-0.01,"with":-0.025},{"t":2010,"without":-0.015,"with":-0.03},{"t":2020,"without":-0.02,"with":-0.03},{"t":2030,"without":-0.03,"with":-0.03},{"t":2040,"without":-0.035,"with":-0.035},{"t":2050,"without":-0.04,"with":-0.04},{"t":2060,"without":-0.04,"with":-0.04},{"t":2070,"without":-0.045,"with":-0.045},{"t":2080,"without":-0.04,"with":-0.04},{"t":2090,"without":-0.05,"with":-0.05},{"t":2100,"without":-0.06,"with":-0.06},{"t":2110,"without":-0.06,"with":-0.06},{"t":2120,"without":-0.055,"with":-0.055},{"t":2130,"without":-0.04,"with":-0.04},{"t":2140,"without":-0.03,"with":-0.03},{"t":2150,"without":-0.02,"with":-0.02},{"t":2160,"without":-0.01,"with":-0.01},{"t":2170,"without":0,"with":0},{"t":2180,"without":0.01,"with":0.01},{"t":2190,"without":0.02,"with":0.02},{"t":2200,"without":0,"with":0},{"t":2210,"without":-0.01,"with":-0.01},{"t":2220,"without":0.01,"with":0.01},{"t":2230,"without":0.02,"with":0.02},{"t":2240,"without":0.03,"with":0.03},{"t":2250,"without":0.01,"with":0.01},{"t":2260,"without":-0.04,"with":-0.04},{"t":2270,"without":-0.07,"with":-0.07},{"t":2278,"without":-0.09,"with":-0.09},{"t":2285,"without":-0.05,"with":-0.05},{"t":2295,"without":-0.03,"with":-0.03},{"t":2305,"without":-0.06,"with":-0.06},{"t":2315,"without":-0.07,"with":-0.07},{"t":2325,"without":-0.03,"with":-0.03},{"t":2335,"without":0,"with":0},{"t":2345,"without":0.02,"with":0.02},{"t":2355,"without":0.03,"with":0.03},{"t":2365,"without":0.02,"with":0.02},{"t":2375,"without":0,"with":0},{"t":2385,"without":-0.02,"with":-0.02},{"t":2395,"without":-0.04,"with":-0.04},{"t":2405,"without":-0.05,"with":-0.05}
]
},
"vconcat":[
{
"title":"Roll","width":685,"height":72,
"data":{"name":"roll"},
"transform":[{"fold":["without","with"],"as":["series","value"]}],
"mark":{"type":"line","strokeWidth":1.8,"clip":true},
"encoding":{
"x":{"field":"t","type":"quantitative","scale":{"domain":[-120,2520],"nice":false,"zero":false},"axis":{"values":[0,500,1000,1500,2000,2500],"format":"d","title":"timestep"}},
"y":{"field":"value","type":"quantitative","scale":{"domain":[-0.25,0.25],"nice":false,"zero":false},"axis":{"values":[-0.25,0,0.25],"format":".2f","title":"error (rad)"}},
"color":{"field":"series","type":"nominal","scale":{"domain":["without","with"],"range":["#1f77b4","#ff7f0e"]},"legend":{"title":null,"labelExpr":"datum.value == 'without' ? 'Without DRNN' : 'With DRNN'"}}
}
},
{
"title":"Pitch","width":685,"height":73,
"data":{"name":"pitch"},
"transform":[{"fold":["without","with"],"as":["series","value"]}],
"mark":{"type":"line","strokeWidth":1.8,"clip":true},
"encoding":{
"x":{"field":"t","type":"quantitative","scale":{"domain":[-120,2520],"nice":false,"zero":false},"axis":{"values":[0,500,1000,1500,2000,2500],"format":"d","title":"timestep"}},
"y":{"field":"value","type":"quantitative","scale":{"domain":[-0.5,0.72],"nice":false,"zero":false},"axis":{"values":[0,0.5],"format":".1f","title":"error (rad)"}},
"color":{"field":"series","type":"nominal","scale":{"domain":["without","with"],"range":["#1f77b4","#ff7f0e"]},"legend":{"title":null,"labelExpr":"datum.value == 'without' ? 'Without DRNN' : 'With DRNN'"}}
}
},
{
"title":"Yaw","width":685,"height":71,
"data":{"name":"yaw"},
"transform":[{"fold":["without","with"],"as":["series","value"]}],
"mark":{"type":"line","strokeWidth":1.8,"clip":true},
"encoding":{
"x":{"field":"t","type":"quantitative","scale":{"domain":[-120,2520],"nice":false,"zero":false},"axis":{"values":[0,500,1000,1500,2000,2500],"format":"d","title":"timestep"}},
"y":{"field":"value","type":"quantitative","scale":{"domain":[-0.435,0.46],"nice":false,"zero":false},"axis":{"values":[-0.25,0,0.25],"format":".2f","title":"error (rad)"}},
"color":{"field":"series","type":"nominal","scale":{"domain":["without","with"],"range":["#1f77b4","#ff7f0e"]},"legend":{"title":null,"labelExpr":"datum.value == 'without' ? 'Without DRNN' : 'With DRNN'"}}
}
}
]
}
